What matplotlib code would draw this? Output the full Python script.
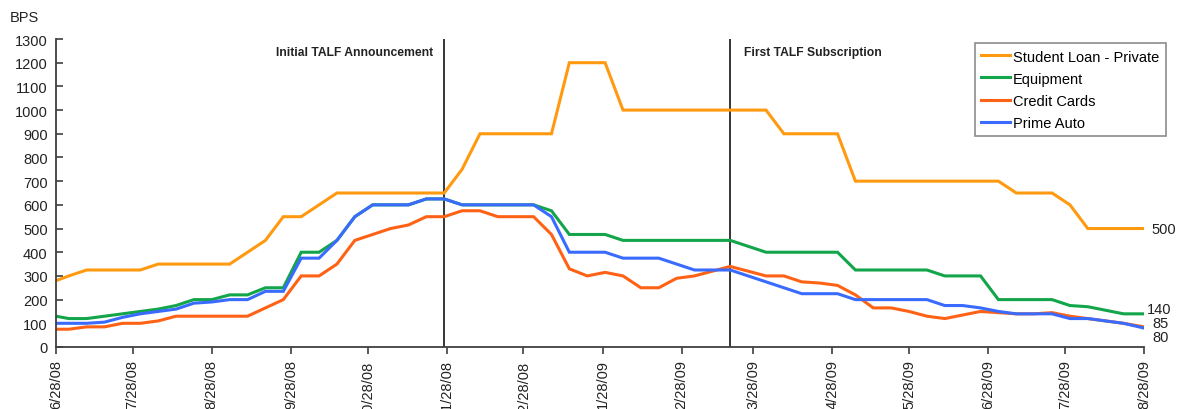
import matplotlib

matplotlib.use("Agg")
import matplotlib.pyplot as plt
import matplotlib.dates as mdates
import numpy as np
import pandas as pd

# weekly observation dates (first point 6/28/08, then Thursdays, last 8/28/09)
dates = pd.to_datetime([
    "2008-06-28", "2008-07-03", "2008-07-10", "2008-07-17", "2008-07-24", "2008-07-31",
    "2008-08-07", "2008-08-14", "2008-08-21", "2008-08-28", "2008-09-04", "2008-09-11",
    "2008-09-18", "2008-09-25", "2008-10-02", "2008-10-09", "2008-10-16", "2008-10-23",
    "2008-10-30", "2008-11-06", "2008-11-13", "2008-11-20", "2008-11-27", "2008-12-04",
    "2008-12-11", "2008-12-18", "2008-12-25", "2009-01-01", "2009-01-08", "2009-01-15",
    "2009-01-22", "2009-01-29", "2009-02-05", "2009-02-12", "2009-02-19", "2009-02-26",
    "2009-03-05", "2009-03-12", "2009-03-19", "2009-03-26", "2009-04-02", "2009-04-09",
    "2009-04-16", "2009-04-23", "2009-04-30", "2009-05-07", "2009-05-14", "2009-05-21",
    "2009-05-28", "2009-06-04", "2009-06-11", "2009-06-18", "2009-06-25", "2009-07-02",
    "2009-07-09", "2009-07-16", "2009-07-23", "2009-07-30", "2009-08-06", "2009-08-13",
    "2009-08-20", "2009-08-28",
])

student_loan = [
    280, 300, 325, 325, 325, 325, 350, 350, 350, 350, 350, 400, 450, 550, 550, 600,
    650, 650, 650, 650, 650, 650, 650, 750, 900, 900, 900, 900, 900, 1200, 1200, 1200,
    1000, 1000, 1000, 1000, 1000, 1000, 1000, 1000, 1000, 900, 900, 900, 900, 700,
    700, 700, 700, 700, 700, 700, 700, 700, 650, 650, 650, 600, 500, 500, 500, 500,
]
equipment = [
    130, 120, 120, 130, 140, 150, 160, 175, 200, 200, 220, 220, 250, 250, 400, 400,
    450, 550, 600, 600, 600, 625, 625, 600, 600, 600, 600, 600, 575, 475, 475, 475,
    450, 450, 450, 450, 450, 450, 450, 425, 400, 400, 400, 400, 400, 325,
    325, 325, 325, 325, 300, 300, 300, 200, 200, 200, 200, 175, 170, 155, 140, 140,
]
credit_cards = [
    75, 75, 85, 85, 100, 100, 110, 130, 130, 130, 130, 130, 165, 200, 300, 300,
    350, 450, 475, 500, 515, 550, 550, 575, 575, 550, 550, 550, 475, 330, 300, 315,
    300, 250, 250, 290, 300, 320, 340, 320, 300, 300, 275, 270, 260, 220,
    165, 165, 150, 130, 120, 135, 150, 145, 140, 140, 145, 130, 120, 110, 100, 85,
]
prime_auto = [
    100, 100, 100, 105, 125, 140, 150, 160, 185, 190, 200, 200, 235, 235, 375, 375,
    450, 550, 600, 600, 600, 625, 625, 600, 600, 600, 600, 600, 550, 400, 400, 400,
    375, 375, 375, 350, 325, 325, 325, 300, 275, 250, 225, 225, 225, 200,
    200, 200, 200, 200, 175, 175, 165, 150, 140, 140, 140, 120, 120, 110, 100, 80,
]

series_names = ["Student Loan - Private", "Equipment", "Credit Cards", "Prime Auto"]
series_colors = ["#FF9A10", "#12A54A", "#FF6214", "#3A6BFF"]

tick_dates = pd.to_datetime([
    "2008-06-28", "2008-07-28", "2008-08-28", "2008-09-28", "2008-10-28", "2008-11-28",
    "2008-12-28", "2009-01-28", "2009-02-28", "2009-03-28", "2009-04-28", "2009-05-28",
    "2009-06-28", "2009-07-28", "2009-08-28",
])
tick_labels = [
    "6/28/08", "7/28/08", "8/28/08", "9/28/08", "10/28/08", "11/28/08", "12/28/08",
    "1/28/09", "2/28/09", "3/28/09", "4/28/09", "5/28/09", "6/28/09", "7/28/09", "8/28/09",
]

events = pd.to_datetime(["2008-11-27", "2009-03-19"])
event_labels = ["Initial TALF Announcement", "First TALF Subscription"]

end_labels = ["500", "140", "85", "80"]

W, H = 1177, 410
plt.rcParams.update({
    "font.family": ["Liberation Sans", "DejaVu Sans"],
    "font.size": 10.5,
})

fig = plt.figure(figsize=(W / 100, H / 100), dpi=100)
ax = fig.add_axes([56 / W, 62 / H, 1088 / W, 308 / H])

for vals, name, col in zip([student_loan, equipment, credit_cards, prime_auto],
                           series_names, series_colors):
    ax.plot(dates, vals, color=col, linewidth=2.2, label=name, solid_joinstyle="miter")

for d in events:
    ax.axvline(d, color="black", linewidth=1.1, zorder=0)

ax.set_xlim(tick_dates[0], tick_dates[-1])
ax.set_ylim(0, 1300)
ax.set_yticks(np.arange(0, 1301, 100))
ax.set_xticks(tick_dates)
ax.set_xticklabels(tick_labels, rotation=90, va="top", fontsize=10.5)

for s in ["top", "right"]:
    ax.spines[s].set_visible(False)
for s in ["left", "bottom"]:
    ax.spines[s].set_color("#404040")
    ax.spines[s].set_linewidth(1.3)
ax.tick_params(axis="y", direction="in", length=5, width=1.2, color="#404040", pad=6,
               labelsize=10.5, labelcolor="#222222")
ax.tick_params(axis="x", direction="out", length=5, width=1.2, color="#404040", pad=4,
               labelcolor="#222222")

fig.text(10 / W, 1 - 18 / H, "BPS", ha="left", va="center", fontsize=10.5, color="#222222")
fig.text(433 / W, 1 - 53 / H, event_labels[0], ha="right", va="center",
         fontsize=8.7, fontweight="bold", color="#222222")
fig.text(744 / W, 1 - 53 / H, event_labels[1], ha="left", va="center",
         fontsize=8.7, fontweight="bold", color="#222222")

# end-of-series value labels
last = dates[-1]
end_vals = [student_loan[-1], equipment[-1], credit_cards[-1], prime_auto[-1]]
offsets = [(7, 0), (3, 5), (8, 4), (8, -9)]
for txt, v, off in zip(end_labels, end_vals, offsets):
    ax.annotate(txt, xy=(last, v), xytext=off, textcoords="offset pixels",
                ha="left", va="center", fontsize=10.5, color="#222222",
                annotation_clip=False)

leg = ax.legend(loc="upper right", bbox_to_anchor=(1166 / W, 1 - 44 / H),
                bbox_transform=fig.transFigure, borderaxespad=0, fancybox=False,
                framealpha=1, edgecolor="#8C8C8C", fontsize=10.5, handlelength=2.0,
                handletextpad=0.2, labelspacing=0.55, borderpad=0.45)
leg.get_frame().set_linewidth(1.2)

fig.savefig("out.png", dpi=100)
